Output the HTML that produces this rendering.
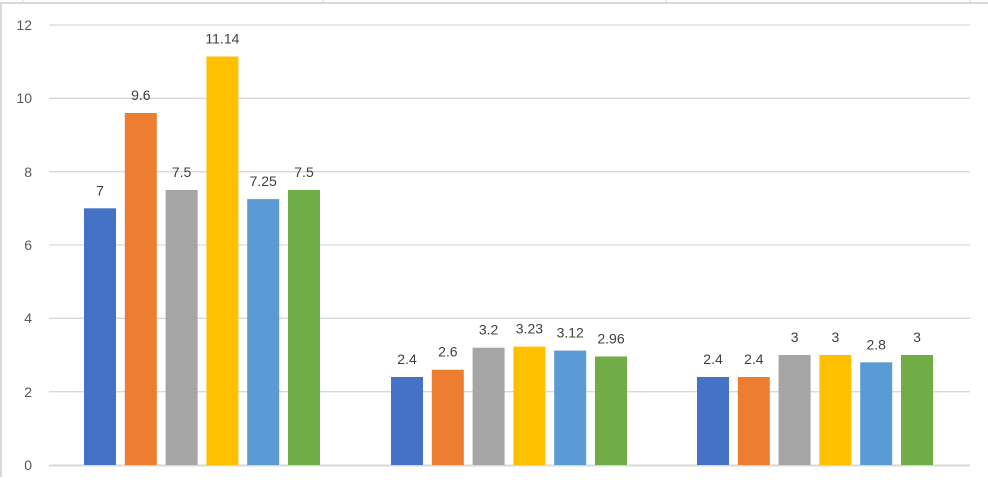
<!DOCTYPE html><html><head><style>body{margin:0;background:#fff}</style></head><body>
<svg width="988" height="477" xmlns="http://www.w3.org/2000/svg" font-family="Liberation Sans, sans-serif" font-size="14" fill="#404040">
<rect x="1" y="3" width="990" height="480" fill="none" stroke="#d9d9d9" stroke-width="2"/>
<g stroke="#d9d9d9" stroke-width="1"><line x1="23" y1="0" x2="23" y2="3"/><line x1="323" y1="0" x2="323" y2="3"/><line x1="666" y1="0" x2="666" y2="3"/><line x1="970" y1="0" x2="970" y2="3"/></g>
<g stroke="#d9d9d9" stroke-width="1.3">
<line x1="49" x2="970" y1="25" y2="25"/><line x1="49" x2="970" y1="98.3" y2="98.3"/><line x1="49" x2="970" y1="171.7" y2="171.7"/><line x1="49" x2="970" y1="245" y2="245"/><line x1="49" x2="970" y1="318.3" y2="318.3"/><line x1="49" x2="970" y1="391.7" y2="391.7"/></g>
<line x1="49" x2="970" y1="465.5" y2="465.5" stroke="#d9d9d9" stroke-width="2"/>
<g text-anchor="end" fill="#595959"><text x="32" y="30">12</text><text x="32" y="103">10</text><text x="32" y="177">8</text><text x="32" y="250">6</text><text x="32" y="323">4</text><text x="32" y="397">2</text><text x="32" y="470">0</text></g>
<rect x="84" y="208.3" width="32" height="256.7" fill="#4472C4"/>
<rect x="124.8" y="113" width="32" height="352" fill="#ED7D31"/>
<rect x="165.6" y="190" width="32" height="275" fill="#A5A5A5"/>
<rect x="206.4" y="56.5" width="32" height="408.5" fill="#FFC000"/>
<rect x="247.2" y="199.1" width="32" height="265.9" fill="#5B9BD5"/>
<rect x="288" y="190" width="32" height="275" fill="#70AD47"/>
<rect x="391" y="377" width="32" height="88" fill="#4472C4"/>
<rect x="431.8" y="369.7" width="32" height="95.3" fill="#ED7D31"/>
<rect x="472.6" y="347.7" width="32" height="117.3" fill="#A5A5A5"/>
<rect x="513.4" y="346.6" width="32" height="118.4" fill="#FFC000"/>
<rect x="554.2" y="350.6" width="32" height="114.4" fill="#5B9BD5"/>
<rect x="595" y="356.5" width="32" height="108.5" fill="#70AD47"/>
<rect x="697" y="377" width="32" height="88" fill="#4472C4"/>
<rect x="737.8" y="377" width="32" height="88" fill="#ED7D31"/>
<rect x="778.6" y="355" width="32" height="110" fill="#A5A5A5"/>
<rect x="819.4" y="355" width="32" height="110" fill="#FFC000"/>
<rect x="860.2" y="362.3" width="32" height="102.7" fill="#5B9BD5"/>
<rect x="901" y="355" width="32" height="110" fill="#70AD47"/>
<g text-anchor="middle">
<text x="100" y="195.3">7</text><text x="140.8" y="100">9.6</text><text x="181.6" y="177">7.5</text><text x="222.4" y="43.5">11.14</text><text x="263.2" y="186.1">7.25</text><text x="304" y="177">7.5</text>
<text x="407" y="364">2.4</text><text x="447.8" y="356.7">2.6</text><text x="488.6" y="334.7">3.2</text><text x="529.4" y="333.6">3.23</text><text x="570.2" y="337.6">3.12</text><text x="611" y="343.5">2.96</text>
<text x="713" y="364">2.4</text><text x="753.8" y="364">2.4</text><text x="794.6" y="342">3</text><text x="835.4" y="342">3</text><text x="876.2" y="349.3">2.8</text><text x="917" y="342">3</text>
</g>
</svg></body></html>
